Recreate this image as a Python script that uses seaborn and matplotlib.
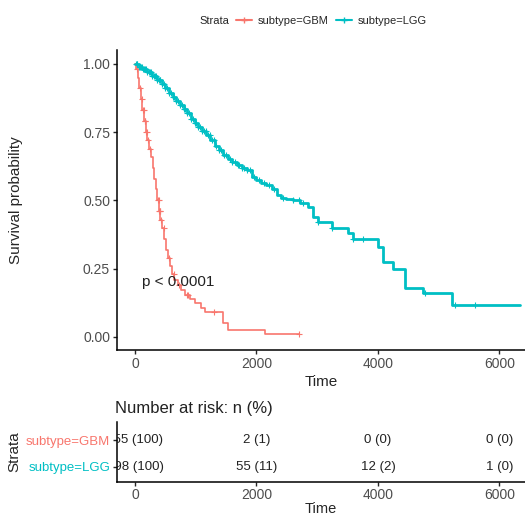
import numpy as np
import pandas as pd
import matplotlib
matplotlib.use("Agg")
import matplotlib.pyplot as plt
from matplotlib.lines import Line2D
import seaborn as sns

# Kaplan-Meier curves (step starts)
strata = ["subtype=GBM", "subtype=LGG"]
palette = ["#F8766D", "#00BFC4"]

gbm_time = [0, 20, 45, 70, 95, 120, 150, 175, 200, 230, 260, 290, 320, 345, 370, 395,
            420, 450, 480, 510, 540, 575, 610, 650, 700, 760, 830, 900, 990, 1080, 1150,
            1450, 1530, 2140, 2700]
gbm_surv = [1.00, 0.98, 0.95, 0.91, 0.87, 0.83, 0.79, 0.75, 0.72, 0.69, 0.66, 0.62, 0.58,
            0.54, 0.50, 0.46, 0.43, 0.40, 0.36, 0.32, 0.29, 0.26, 0.23, 0.21, 0.19, 0.17,
            0.155, 0.14, 0.125, 0.105, 0.09, 0.05, 0.026, 0.012, 0.012]
gbm_censor = [30, 75, 110, 135, 145, 160, 170, 180, 190, 215, 240, 380, 390, 400, 410,
              415, 430, 470, 560, 640, 720, 850, 880, 1300, 2700]

lgg_time = [0, 60, 120, 200, 280, 360, 440, 500, 560, 620, 680, 740, 800, 860, 920, 980,
            1040, 1100, 1170, 1240, 1310, 1380, 1450, 1530, 1600, 1680, 1760, 1850, 1920,
            2000, 2080, 2160, 2250, 2330, 2400, 2480, 2600, 2720, 2850, 2930, 3010, 3240,
            3500, 3590, 4000, 4080, 4250, 4440, 4740, 5220, 6340]
lgg_surv = [1.00, 0.99, 0.98, 0.97, 0.955, 0.94, 0.925, 0.91, 0.895, 0.88, 0.865, 0.85,
            0.835, 0.82, 0.80, 0.785, 0.77, 0.755, 0.74, 0.72, 0.70, 0.685, 0.665, 0.65,
            0.64, 0.63, 0.62, 0.61, 0.585, 0.575, 0.565, 0.555, 0.54, 0.52, 0.51, 0.505,
            0.50, 0.49, 0.475, 0.44, 0.42, 0.40, 0.38, 0.36, 0.33, 0.275, 0.25, 0.18, 0.16,
            0.117, 0.117]
lgg_censor = [10, 25, 40, 60, 80, 95, 110, 130, 150, 165, 180, 205, 230, 245, 260, 285,
              310, 325, 340, 365, 390, 405, 420, 445, 470, 500, 530, 560, 590, 620, 650,
              680, 700, 740, 770, 800, 830, 860, 890, 920, 950, 980, 1010, 1040, 1070,
              1100, 1130, 1165, 1200, 1235, 1270, 1305, 1340, 1380, 1420, 1460, 1500, 1560,
              1600, 1640, 1690, 1720, 1760, 1800, 1850, 1890, 1960, 2040, 2120, 2200, 2290,
              2440, 2600, 2700, 2760, 3010, 3240, 3590, 3750, 4770, 5270, 5600]

# Risk table
risk_times = [0, 2000, 4000, 6000]
gbm_risk = ["155 (100)", "2 (1)", "0 (0)", "0 (0)"]
lgg_risk = ["498 (100)", "55 (11)", "12 (2)", "1 (0)"]

curves = pd.concat([
    pd.DataFrame({"Time": gbm_time, "Surv": gbm_surv, "Strata": strata[0]}),
    pd.DataFrame({"Time": lgg_time, "Surv": lgg_surv, "Strata": strata[1]}),
])


def surv_at(times, survs, t):
    i = np.searchsorted(times, t, side="right") - 1
    return survs[i]


cens = pd.concat([
    pd.DataFrame({"Time": gbm_censor,
                  "Surv": [surv_at(gbm_time, gbm_surv, t) for t in gbm_censor],
                  "Strata": strata[0]}),
    pd.DataFrame({"Time": lgg_censor,
                  "Surv": [surv_at(lgg_time, lgg_surv, t) for t in lgg_censor],
                  "Strata": strata[1]}),
])

sns.set_theme(style="ticks")
plt.rcParams["font.family"] = ["Liberation Sans", "DejaVu Sans"]

W, H = 525, 516
fig = plt.figure(figsize=(W / 100, H / 100), dpi=100)
ax = fig.add_axes([117 / W, 1 - 350 / H, 1 - 117 / W, 300 / H])
ax2 = fig.add_axes([117 / W, 1 - 482 / H, 1 - 117 / W, 60 / H])

xlim = (-296, 6420)

# survival curves
for name, col, lw in zip(strata, palette, [1.2, 2.0]):
    sns.lineplot(data=curves[curves["Strata"] == name], x="Time", y="Surv",
                 color=col, drawstyle="steps-post", estimator=None, sort=False,
                 linewidth=lw, ax=ax, legend=False)
    sns.scatterplot(data=cens[cens["Strata"] == name], x="Time", y="Surv",
                    color=col, marker="+", s=16, linewidth=0.8, ax=ax, legend=False)

ax.set_xlim(*xlim)
ax.set_ylim(-0.048, 1.051)
ax.set_xticks(risk_times)
ax.set_yticks([0, 0.25, 0.5, 0.75, 1.0])
ax.set_yticklabels(["0.00", "0.25", "0.50", "0.75", "1.00"])
ax.tick_params(labelsize=10, labelcolor="#4D4D4D", length=3, width=1, pad=2)
ax.set_xlabel("Time", fontsize=11, labelpad=3)
ax.set_ylabel("Survival probability", fontsize=11)
ax.yaxis.set_label_coords(-0.23, 0.5)
sns.despine(ax=ax)
for s in ["left", "bottom"]:
    ax.spines[s].set_linewidth(1.1)
    ax.spines[s].set_color("black")
ax.text(115, 0.20, "p < 0.0001", fontsize=11, ha="left", va="center", color="#222222")

# legend on top
handles = [Line2D([], [], alpha=0)] + [
    Line2D([], [], color=c, marker="+", markersize=5, linewidth=1.5) for c in palette]
fig.legend(handles, ["Strata"] + strata, ncol=3, loc="center",
           bbox_to_anchor=(302 / W, 1 - 21 / H), frameon=False, fontsize=8,
           handlelength=1.5, handletextpad=0.5, columnspacing=0.6)

# risk table
fig.text(115 / W, 1 - 408 / H, "Number at risk: n (%)", fontsize=12,
         ha="left", va="center", color="#222222")
row_y = {strata[0]: 2, strata[1]: 1}
for name, vals in zip(strata, [gbm_risk, lgg_risk]):
    for t, v in zip(risk_times, vals):
        ax2.text(t, row_y[name], v, ha="center", va="center", fontsize=9.5,
                 color="#222222", clip_on=True)
ax2.set_xlim(*xlim)
ax2.set_ylim(0.444, 2.667)
ax2.set_xticks(risk_times)
ax2.set_yticks([row_y[s] for s in strata])
ax2.set_yticklabels(strata)
for lab, c in zip(ax2.get_yticklabels(), palette):
    lab.set_color(c)
    lab.set_fontsize(9.5)
ax2.tick_params(axis="x", labelsize=10, labelcolor="#4D4D4D", length=3, width=1, pad=1)
ax2.tick_params(axis="y", length=3, width=1, pad=2)
ax2.set_xlabel("Time", fontsize=10.5, labelpad=0)
ax2.set_ylabel("Strata", fontsize=11)
ax2.yaxis.set_label_coords(-0.235, 0.5)
sns.despine(ax=ax2)
for s in ["left", "bottom"]:
    ax2.spines[s].set_linewidth(1.1)
    ax2.spines[s].set_color("black")

fig.savefig("out.png", dpi=100)
